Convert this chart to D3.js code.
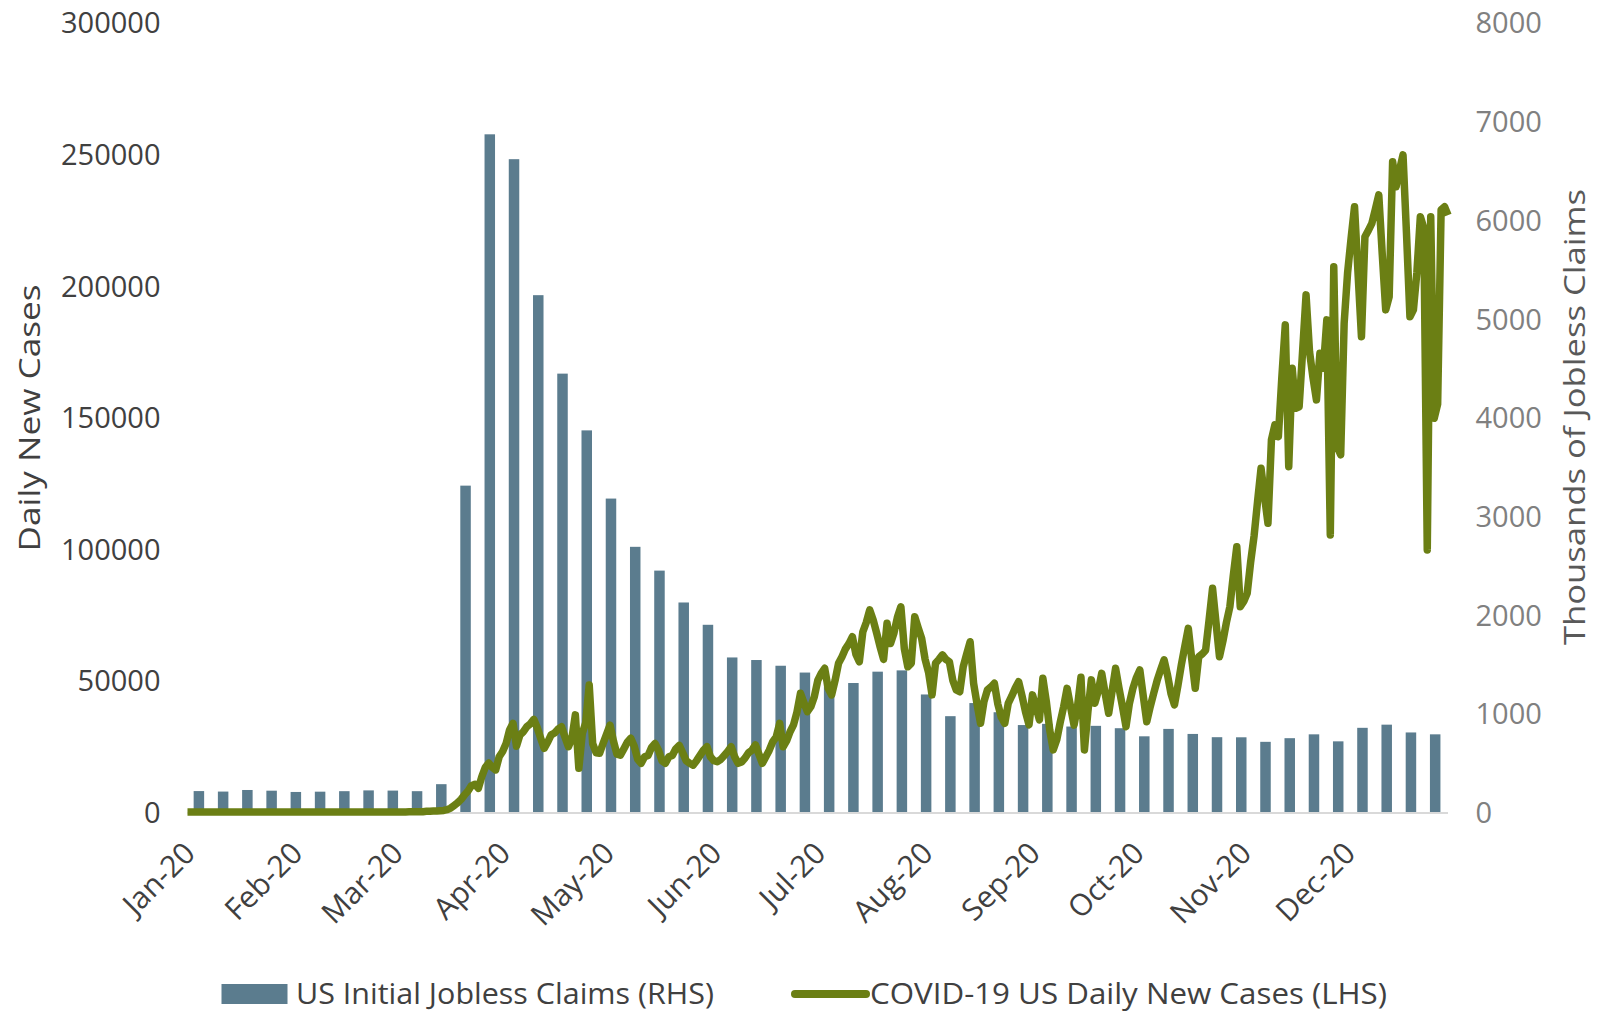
<!DOCTYPE html>
<html>
<head>
<meta charset="utf-8">
<script src="https://cdn.jsdelivr.net/npm/d3@7"></script>
<style>
  html, body { margin: 0; padding: 0; background: #fff; }
  svg { display: block; }
  text { font-family: "Open Sans", "Lato", sans-serif; }
</style>
</head>
<body>
<svg id="chart" width="1601" height="1014"></svg>
<script>
// Month tick labels along the date axis
const monthLabels = ["Jan-20","Feb-20","Mar-20","Apr-20","May-20","Jun-20",
                     "Jul-20","Aug-20","Sep-20","Oct-20","Nov-20","Dec-20"];

// Left / right axis tick values
const caseTicks = [0, 50000, 100000, 150000, 200000, 250000, 300000];
const claimTicks = [0, 1000, 2000, 3000, 4000, 5000, 6000, 7000, 8000];

// US initial jobless claims, thousands, weeks ending Saturday from 4 Jan 2020
const claimsFirstWeek = "2020-01-04";
const claims = [212,207,223,216,203,206,211,219,217,211,282,3307,6867,6615,5237,4442,
  3867,3176,2687,2446,2123,1897,1566,1540,1482,1413,1310,1307,1422,1435,1191,971,1104,
  1011,881,893,866,873,849,767,842,791,758,757,711,748,787,716,853,885,806,787];

// COVID-19 US daily new cases, one value per day from 1 Jan 2020
const casesFirstDay = "2020-01-01";
const casesJan = [0,0,0,0,0,0,0,0,0,0,0,0,0,0,0,0,0,0,0,0,1,0,0,1,1,2,0,0,0,0,1];
const casesFeb = [1,0,0,0,3,0,0,0,1,0,0,1,0,0,0,0,0,0,0,0,0,18,0,0,0,0,0,1,5];
const casesMar = [8,19,24,28,70,60,120,110,130,250,290,350,400,500,600,900,1500,2500,3500,4800,
  6500,8000,10000,10500,9000,13500,17000,18600,17000,16000,21000];
const casesApr = [23000,26000,31200,33700,25000,29300,30500,32400,33500,35200,
  32000,28000,24200,26500,29300,30000,31500,32400,28500,24800,
  28000,36900,16600,29900,34000,48300,26000,22500,22300,26000];
const casesMay = [29500,33000,27000,22000,21600,24000,26500,28000,25000,20000,
  18500,21000,21500,24500,26000,23500,19500,18500,21000,21500,
  24000,25300,22500,19500,18500,17800,19500,21500,23500,24800,21000];
const casesJun = [19500,19100,20000,21500,23000,24800,21000,18500,19000,20500,
  22500,23500,25500,22000,18500,21000,23500,26700,28500,33700,
  24800,27000,30500,33100,38000,45100,41500,38100,40000,43800];
const casesJul = [50000,52700,54600,47000,44500,50000,56500,59000,62000,64000,
  66600,60000,57100,68400,72000,76800,73000,68000,62800,58000,
  71700,64000,68000,74000,78000,62000,55200,56500,74200,70000,66000];
const casesAug = [58000,53000,44500,56500,58000,59700,58000,57100,50000,46400,
  45700,55200,60000,64700,48900,41000,33700,42000,46400,47500,
  48900,41000,36000,33700,41300,44000,47000,49500,44000,38000,33100];
const casesSep = [44500,40000,35000,50800,42000,31000,23600,27400,34000,40000,
  47000,40000,33000,40000,51200,23600,38000,50200,41300,46000,
  52700,45000,37500,46000,54600,47000,40000,32400,41300,47000];
const casesOct = [51000,54000,44000,34300,40000,45100,50000,54000,57800,52000,
  45000,40700,48000,56000,63000,69800,58000,47000,59000,60000,
  61500,73000,85000,72000,59000,65000,72000,78000,90000,100800,78000];
const casesNov = [80000,83100,95000,105000,118000,130600,120000,109700,141400,147100,
  142600,165000,185100,131200,168600,153400,154000,175000,196500,175000,
  165000,156600,174300,168600,187000,105300,207200,138800,135700,185700];
const casesDec = [205000,218000,230000,205000,180600,218600,221000,223700,229000,234500,
  212000,190800,195800,247100,237600,244000,249700,220000,188200,190800,
  205000,226200,222000,99600,226200,149600,155000,228800,230000,226800];

const legendBarLabel = "US Initial Jobless Claims (RHS)";
const legendLineLabel = "COVID-19 US Daily New Cases (LHS)";
const leftTitle = "Daily New Cases";
const rightTitle = "Thousands of Jobless Claims";

// ---- build series ----
const parse = d3.utcParse("%Y-%m-%d");
const dailyCases = [].concat(casesJan, casesFeb, casesMar, casesApr, casesMay, casesJun,
  casesJul, casesAug, casesSep, casesOct, casesNov, casesDec);
const caseSeries = dailyCases.map((v, i) => ({ date: d3.utcDay.offset(parse(casesFirstDay), i), value: v }));
const claimSeries = claims.map((v, i) => ({ date: d3.utcDay.offset(parse(claimsFirstWeek), 7 * i), value: v }));
const monthStarts = d3.range(12).map(m => new Date(Date.UTC(2020, m, 1)));

// ---- layout ----
const svg = d3.select("#chart");
const plotLeft = 187.5, plotRight = 1451.5, plotTop = 22.5, plotBottom = 812;
const barColor = "#5b7c8e", lineColor = "#6b7f14";
const darkText = "#404040", greyText = "#808080";
const fontSize = 29;

const x = d3.scaleUtc()
  .domain([new Date(Date.UTC(2020, 0, 1)), new Date(Date.UTC(2020, 11, 31))])
  .range([plotLeft, plotRight]);
const yCases = d3.scaleLinear().domain([0, 300000]).range([plotBottom, plotTop]);
const yClaims = d3.scaleLinear().domain([0, 8000]).range([plotBottom, plotTop]);

// bars (weekly claims, right axis)
const barWidth = 10.5;
svg.append("g").selectAll("rect")
  .data(claimSeries)
  .join("rect")
  .attr("x", d => x(d.date) + 1 - barWidth / 2)
  .attr("width", barWidth)
  .attr("y", d => yClaims(d.value))
  .attr("height", d => yClaims(0) - yClaims(d.value))
  .attr("fill", barColor);

// x axis baseline
svg.append("line")
  .attr("x1", plotLeft).attr("x2", 1448)
  .attr("y1", plotBottom + 1).attr("y2", plotBottom + 1)
  .attr("stroke", "#d9d9d9").attr("stroke-width", 2);

// daily cases line (left axis)
const line = d3.line().x(d => x(d.date)).y(d => yCases(d.value));
svg.append("path")
  .datum(caseSeries)
  .attr("d", line)
  .attr("fill", "none")
  .attr("stroke", lineColor)
  .attr("stroke-width", 7.5)
  .attr("stroke-linejoin", "round")
  .attr("stroke-linecap", "butt");

// left axis
const gLeft = svg.append("g")
  .attr("transform", `translate(${plotLeft},0)`)
  .call(d3.axisLeft(yCases).tickValues(caseTicks).tickFormat(d3.format("d")).tickSize(0).tickPadding(27));
gLeft.select(".domain").remove();
gLeft.selectAll("text")
  .attr("fill", darkText).style("font-size", fontSize + "px").attr("dy", "0.36em");

// right axis
const gRight = svg.append("g")
  .attr("transform", `translate(${plotRight},0)`)
  .call(d3.axisRight(yClaims).tickValues(claimTicks).tickFormat(d3.format("d")).tickSize(0).tickPadding(24));
gRight.select(".domain").remove();
gRight.selectAll("text")
  .attr("fill", greyText).style("font-size", fontSize + "px").attr("dy", "0.36em");

// bottom axis with rotated month labels
const gBottom = svg.append("g")
  .attr("transform", `translate(0,${plotBottom})`)
  .call(d3.axisBottom(x).tickValues(monthStarts).tickFormat((d, i) => monthLabels[i]).tickSize(0));
gBottom.select(".domain").remove();
gBottom.selectAll("text")
  .attr("fill", darkText)
  .style("font-size", "30px")
  .attr("text-anchor", "end")
  .attr("x", 0).attr("y", 0).attr("dy", 0)
  .attr("transform", "translate(9,43) rotate(-45)");

// axis titles
svg.append("text")
  .attr("transform", `translate(40,418) rotate(-90)`)
  .attr("text-anchor", "middle")
  .attr("fill", darkText)
  .style("font-size", fontSize + "px")
  .attr("textLength", 267).attr("lengthAdjust", "spacingAndGlyphs")
  .text(leftTitle);

svg.append("text")
  .attr("transform", `translate(1585,417) rotate(-90)`)
  .attr("text-anchor", "middle")
  .attr("fill", "#595959")
  .style("font-size", fontSize + "px")
  .attr("textLength", 456).attr("lengthAdjust", "spacingAndGlyphs")
  .text(rightTitle);

// legend
const legend = svg.append("g");
legend.append("rect")
  .attr("x", 221.5).attr("y", 984).attr("width", 66).attr("height", 20)
  .attr("fill", barColor);
legend.append("text")
  .attr("x", 296).attr("y", 1004)
  .attr("fill", darkText).style("font-size", fontSize + "px")
  .attr("textLength", 418).attr("lengthAdjust", "spacingAndGlyphs")
  .text(legendBarLabel);
legend.append("line")
  .attr("x1", 795).attr("x2", 866).attr("y1", 994).attr("y2", 994)
  .attr("stroke", lineColor).attr("stroke-width", 8).attr("stroke-linecap", "round");
legend.append("text")
  .attr("x", 870).attr("y", 1004)
  .attr("fill", darkText).style("font-size", fontSize + "px")
  .attr("textLength", 517).attr("lengthAdjust", "spacingAndGlyphs")
  .text(legendLineLabel);
</script>
</body>
</html>
